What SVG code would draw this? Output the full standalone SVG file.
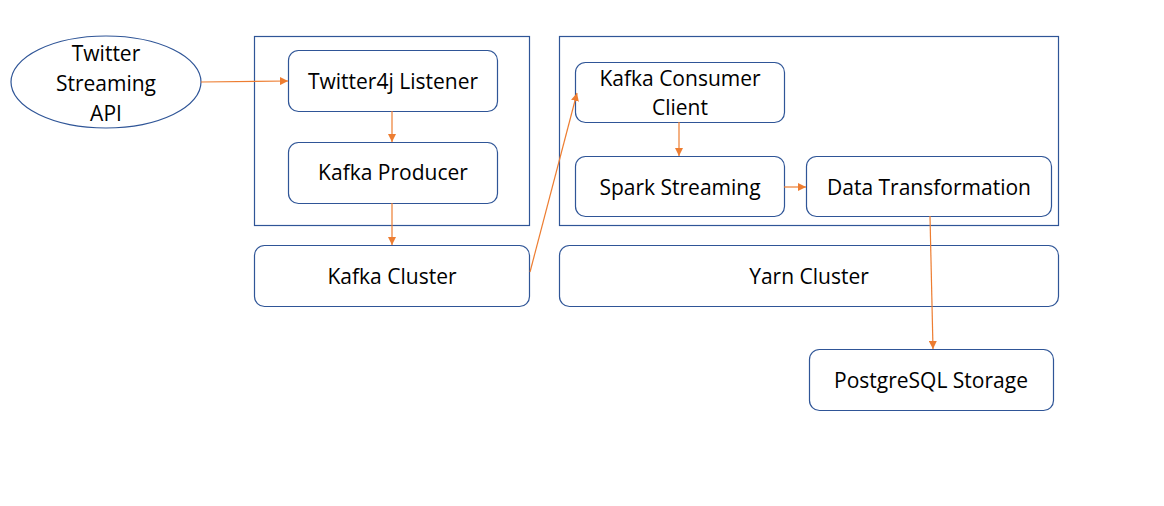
<svg xmlns="http://www.w3.org/2000/svg" width="1164" height="506" viewBox="0 0 1164 506">
<style>
.n{fill:#fff;stroke:#2f5597;stroke-width:1.2}
.t{font-family:"Open Sans","Noto Sans",sans-serif;font-size:21px;fill:#000;text-anchor:middle;dominant-baseline:central}
.c{stroke:#ed7d31;stroke-width:1.2;fill:none;marker-end:url(#a)}
</style>
<defs>
<marker id="a" viewBox="0 0 10 10" refX="10" refY="5" markerWidth="8" markerHeight="8" markerUnits="userSpaceOnUse" orient="auto">
<path d="M0,0 L10,5 L0,10 z" fill="#ed7d31"/>
</marker>
</defs>
<rect width="1164" height="506" fill="#fff"/>
<g id="kafka-container"><rect class="n" x="254.5" y="36.5" width="275" height="189"/></g>
<g id="yarn-container"><rect class="n" x="559.5" y="36.5" width="499" height="189"/></g>
<g id="twitter-api"><ellipse class="n" cx="106" cy="82" rx="95" ry="46"/>
<text class="t" x="106" y="53">Twitter</text><text class="t" x="106" y="83">Streaming</text><text class="t" x="106" y="113">API</text></g>
<g id="twitter4j"><rect class="n" x="288.5" y="50.5" width="209" height="61" rx="10"/><text class="t" x="393" y="81">Twitter4j Listener</text></g>
<g id="kafka-producer"><rect class="n" x="288.5" y="142.5" width="209" height="61" rx="10"/><text class="t" x="393" y="172">Kafka Producer</text></g>
<g id="kafka-cluster"><rect class="n" x="254.5" y="245.5" width="275" height="61" rx="10"/><text class="t" x="392" y="276">Kafka Cluster</text></g>
<g id="kafka-consumer"><rect class="n" x="575.5" y="62.5" width="209" height="60" rx="10"/><text class="t" x="680" y="78">Kafka Consumer</text><text class="t" x="680" y="107">Client</text></g>
<g id="spark"><rect class="n" x="575.5" y="156.5" width="209" height="60" rx="10"/><text class="t" x="680" y="187">Spark Streaming</text></g>
<g id="data-transformation"><rect class="n" x="806.5" y="156.5" width="245" height="60" rx="10"/><text class="t" x="929" y="187">Data Transformation</text></g>
<g id="yarn-cluster"><rect class="n" x="559.5" y="245.5" width="499" height="61" rx="10"/><text class="t" x="809" y="276">Yarn Cluster</text></g>
<g id="postgres"><rect class="n" x="809.5" y="349.5" width="244" height="61" rx="10"/><text class="t" x="931" y="380">PostgreSQL Storage</text></g>
<g id="connectors">
<line class="c" x1="201" y1="82" x2="288" y2="81"/>
<line class="c" x1="392" y1="111" x2="392" y2="142"/>
<line class="c" x1="392" y1="203" x2="392" y2="245"/>
<line class="c" x1="530" y1="272" x2="577" y2="93"/>
<line class="c" x1="679" y1="122" x2="679" y2="156"/>
<line class="c" x1="784" y1="187" x2="806" y2="187"/>
<line class="c" x1="930" y1="216" x2="933" y2="349"/>
</g>
</svg>
